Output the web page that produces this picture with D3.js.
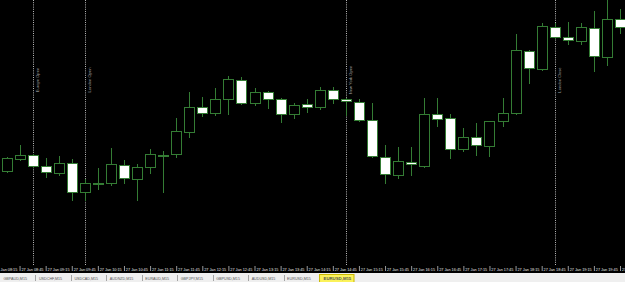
<!DOCTYPE html>
<html>
<head>
<meta charset="utf-8">
<script src="https://cdn.jsdelivr.net/npm/d3@7"></script>
<style>
  body { margin: 0; background: #000; }
  svg { display: block; }
</style>
</head>
<body>
<div id="chart"></div>
<script>
// EURUSD M15, 27 Jan, bars
const times = ["08:30","08:45","09:00","09:15","09:30","09:45","10:00","10:15","10:30","10:45",
  "11:00","11:15","11:30","11:45","12:00","12:15","12:30","12:45","13:00","13:15",
  "13:30","13:45","14:00","14:15","14:30","14:45","15:00","15:15","15:30","15:45",
  "16:00","16:15","16:30","16:45","17:00","17:15","17:30","17:45","18:00","18:15",
  "18:30","18:45","19:00","19:15","19:30","19:45","20:00","20:15"];

const open  = [1.08858,1.08882,1.08890,1.08868,1.08854,1.08874,1.08816,1.08832,1.08834,1.08870,
  1.08842,1.08866,1.08888,1.08892,1.08936,1.08986,1.08974,1.09002,1.09040,1.08994,
  1.09016,1.09002,1.08972,1.08992,1.08986,1.09020,1.09002,1.08996,1.08960,1.08886,
  1.08850,1.08876,1.08868,1.08972,1.08964,1.08902,1.08926,1.08908,1.08958,1.08974,
  1.09098,1.09062,1.09146,1.09126,1.09118,1.09144,1.09086,1.09162];
const high  = [1.08886,1.08910,1.08892,1.08884,1.08888,1.08882,1.08842,1.08864,1.08904,1.08880,
  1.08872,1.08902,1.08898,1.08964,1.09016,1.09006,1.09024,1.09048,1.09046,1.09024,
  1.09018,1.09004,1.08994,1.09002,1.09026,1.09026,1.09004,1.09002,1.08994,1.08910,
  1.08906,1.08906,1.09004,1.09004,1.08972,1.08944,1.08954,1.08958,1.09004,1.09132,
  1.09100,1.09154,1.09154,1.09156,1.09154,1.09178,1.09210,1.09182];
const low   = [1.08856,1.08880,1.08866,1.08846,1.08850,1.08800,1.08800,1.08822,1.08830,1.08834,
  1.08800,1.08854,1.08816,1.08886,1.08926,1.08968,1.08970,1.08972,1.08992,1.08990,
  1.08984,1.08956,1.08964,1.08976,1.08982,1.08994,1.08970,1.08958,1.08886,1.08834,
  1.08844,1.08850,1.08866,1.08948,1.08884,1.08898,1.08890,1.08888,1.08948,1.08972,
  1.09034,1.09060,1.09124,1.09112,1.09112,1.09058,1.09070,1.09134];
const close = [1.08884,1.08890,1.08868,1.08856,1.08874,1.08816,1.08834,1.08834,1.08872,1.08844,
  1.08866,1.08892,1.08890,1.08938,1.08986,1.08974,1.09002,1.09042,1.08994,1.09016,
  1.09002,1.08972,1.08990,1.08986,1.09020,1.09002,1.08998,1.08960,1.08888,1.08852,
  1.08878,1.08872,1.08972,1.08962,1.08902,1.08926,1.08910,1.08958,1.08974,1.09100,
  1.09064,1.09148,1.09126,1.09120,1.09146,1.09088,1.09162,1.09146];

const tickTimes = ["08:15","08:45","09:15","09:45","10:15","10:45","11:15","11:45","12:15",
  "12:45","13:15","13:45","14:15","14:45","15:15","15:45","16:15","16:45","17:15","17:45",
  "18:15","18:45","19:15","19:45","20:15"];

const eventTimes = ["09:00","10:00","15:00","19:00"];
const eventNames = ["Europe Open","London Open","New York Open","London Close"];

const tabNames = ["GBPAUD,M15","USDCHF,M15","USDCAD,M15","AUDNZD,M15","EURAUD,M15",
  "GBPJPY,M15","GBPUSD,M15","AUDUSD,M15","EURUSD,M15","EURUSD,M15"];
const activeTab = 9;

const width = 625;
const height = 282;
const plotBottom = 266;
const green = "#347c34";
const font = "'Liberation Sans', Arial, sans-serif";

const parse = d3.timeParse("%Y-%m-%d %H:%M");
const toDate = t => parse("2016-01-27 " + t);

const bars = times.map((t, i) => ({
  date: toDate(t), o: open[i], h: high[i], l: low[i], c: close[i]
}));

const x = d3.scaleTime()
  .domain([toDate("08:30"), toDate("20:15")])
  .range([6.5, 620]);

const y = d3.scaleLinear()
  .domain([1.09200, 1.08670])
  .range([0, 265]);

const svg = d3.select("#chart").append("svg")
  .attr("width", width)
  .attr("height", height);

svg.append("rect").attr("width", width).attr("height", height).attr("fill", "#000");

svg.append("clipPath").attr("id", "plot")
  .append("rect").attr("width", width).attr("height", plotBottom);

const plot = svg.append("g").attr("clip-path", "url(#plot)");

// session lines
const ev = plot.selectAll(".ev")
  .data(eventTimes.map((t, i) => ({ date: toDate(t), name: eventNames[i] })))
  .enter().append("g");

ev.append("line")
  .attr("x1", d => Math.round(x(d.date)) + 0.5)
  .attr("x2", d => Math.round(x(d.date)) + 0.5)
  .attr("y1", 0)
  .attr("y2", plotBottom)
  .attr("stroke", "#b8b8b8")
  .attr("stroke-width", 1)
  .attr("stroke-dasharray", "1,1.2");

ev.append("text")
  .attr("transform", d => "translate(" + (Math.round(x(d.date)) + 5.8) + ",80) rotate(-90)")
  .attr("text-anchor", "middle")
  .attr("font-family", font)
  .attr("font-size", 4.1)
  .attr("fill", "#a8a8a8")
  .text(d => d.name);

// candles
const cx = d => Math.round(x(d.date)) + 0.5;

plot.selectAll(".wick")
  .data(bars)
  .enter().append("line")
  .attr("x1", cx).attr("x2", cx)
  .attr("y1", d => Math.round(y(d.h)))
  .attr("y2", d => Math.round(y(d.l)) + 1)
  .attr("stroke", green)
  .attr("stroke-width", 1);

plot.selectAll(".body")
  .data(bars)
  .enter().append("rect")
  .attr("x", d => cx(d) - 5)
  .attr("width", 10)
  .attr("y", d => Math.round(y(Math.max(d.o, d.c))) + 0.5)
  .attr("height", d => Math.max(1, Math.round(y(Math.min(d.o, d.c))) - Math.round(y(Math.max(d.o, d.c)))))
  .attr("fill", d => d.c >= d.o ? "#000" : "#fff")
  .attr("stroke", green)
  .attr("stroke-width", 1);

// time axis
const xAxis = d3.axisBottom(x)
  .tickValues(tickTimes.map(toDate))
  .tickFormat(d3.timeFormat("%d %b %H:%M"))
  .tickSize(5)
  .tickSizeOuter(0);

const ax = svg.append("g")
  .attr("transform", "translate(0," + plotBottom + ")")
  .call(xAxis);

ax.select(".domain").remove();
ax.selectAll("line").attr("stroke", "#9a9a9a");
ax.selectAll("text")
  .attr("x", 1.4)
  .attr("y", 4.9)
  .attr("dy", 0)
  .attr("text-anchor", "start")
  .attr("font-family", font)
  .attr("font-size", 3.8)
  .attr("fill", "#e6e6e6");

// symbol tabs
const tabs = d3.scaleBand()
  .domain(d3.range(tabNames.length))
  .range([0, 354.5]);

svg.append("rect")
  .attr("x", 0).attr("y", 273)
  .attr("width", width).attr("height", 9)
  .attr("fill", "#efefef");

svg.append("rect")
  .attr("x", tabs(activeTab) + 0.5).attr("y", 274.5)
  .attr("width", tabs.bandwidth() - 1).attr("height", 8)
  .attr("fill", "#fbf25a")
  .attr("stroke", "#c9b800")
  .attr("stroke-width", 1);

svg.selectAll(".sep")
  .data(d3.range(1, tabNames.length).filter(i => i !== activeTab))
  .enter().append("line")
  .attr("x1", i => Math.round(tabs(i)) + 0.5)
  .attr("x2", i => Math.round(tabs(i)) + 0.5)
  .attr("y1", 275)
  .attr("y2", 281)
  .attr("stroke", "#a5a5a5");

svg.selectAll(".tab")
  .data(tabNames)
  .enter().append("text")
  .attr("x", (d, i) => i === activeTab ? tabs(i) + 4.5 : tabs(i) + 3.5)
  .attr("y", 279.8)
  .attr("font-family", font)
  .attr("font-size", (d, i) => i === activeTab ? 4.3 : 3.7)
  .attr("font-weight", (d, i) => i === activeTab ? "bold" : "normal")
  .attr("fill", "#555")
  .text(d => d);
</script>
</body>
</html>
